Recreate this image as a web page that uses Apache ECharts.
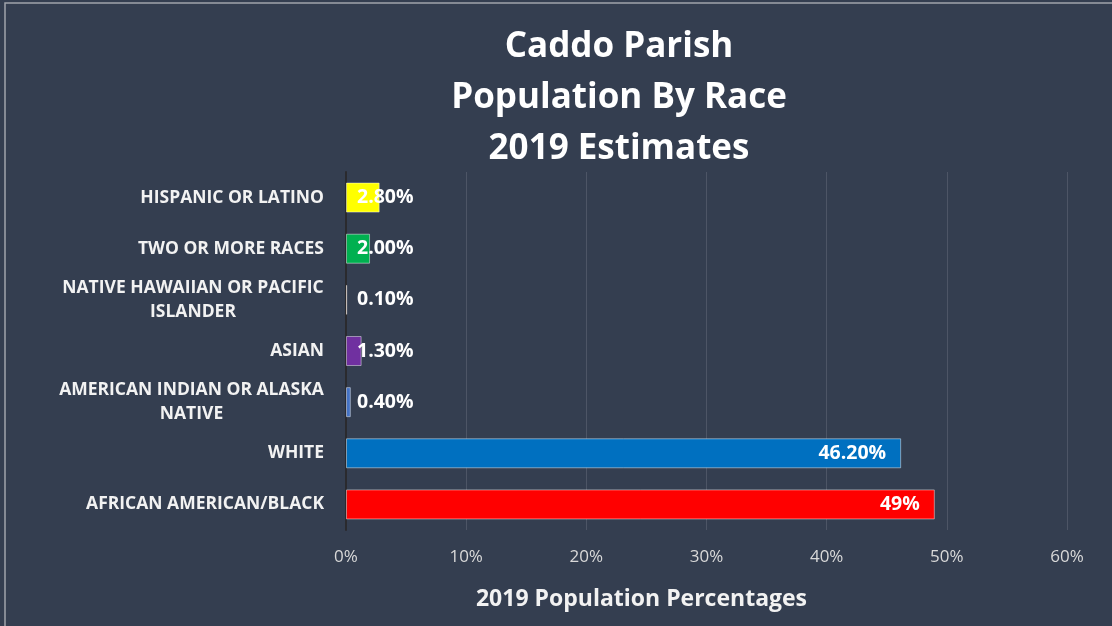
<!DOCTYPE html>
<html>
<head>
<meta charset="utf-8">
<script src="https://cdn.jsdelivr.net/npm/echarts@6/dist/echarts.min.js"></script>
<style>
  html, body { margin: 0; padding: 0; background: #343e50; }
  #chart { width: 1112px; height: 626px; }
</style>
</head>
<body>
<div id="chart"></div>
<script>
// Categories listed bottom to top (category axis starts at the bottom)
const categories = [
  'AFRICAN AMERICAN/BLACK',
  'WHITE',
  'AMERICAN INDIAN OR ALASKA\nNATIVE',
  'ASIAN',
  'NATIVE HAWAIIAN OR PACIFIC\nISLANDER',
  'TWO OR MORE RACES',
  'HISPANIC OR LATINO'
];
const percentages = [49, 46.2, 0.4, 1.3, 0.1, 2.0, 2.8];
// decimal places shown in each bar's value label
const labelDecimals = [0, 2, 2, 2, 2, 2, 2];
const barColors = ['#ff0000', '#0070c0', '#4472c4', '#7030a0', '#ed7d31', '#00b050', '#ffff00'];
const xTicks = [0, 10, 20, 30, 40, 50, 60];

const FONT = '"Open Sans"';
const CAT_FONT_SIZE = 17.5;

// measure text so wrapped category labels can be centred line by line
const measureCtx = document.createElement('canvas').getContext('2d');
measureCtx.font = 'bold ' + CAT_FONT_SIZE + 'px ' + FONT;
function catLabel(value) {
  const lines = value.split('\n');
  if (lines.length === 1) return value;
  const w = Math.ceil(Math.max(...lines.map(l => measureCtx.measureText(l).width)));
  return lines.map(l => '{c' + w + '|' + l + '}').join('\n');
}
const catRich = {};
categories.forEach(c => {
  const lines = c.split('\n');
  if (lines.length > 1) {
    const w = Math.ceil(Math.max(...lines.map(l => measureCtx.measureText(l).width)));
    catRich['c' + w] = {
      width: w, align: 'center', color: '#f2f2f2', fontFamily: FONT,
      fontWeight: 'bold', fontSize: CAT_FONT_SIZE, lineHeight: 24
    };
  }
});

const seriesData = percentages.map((v, i) => ({
  value: v,
  itemStyle: { color: barColors[i] },
  label: v >= 10
    ? { position: 'insideRight', distance: 15 }
    : { position: 'insideLeft', distance: 11 }
}));

const chart = echarts.init(document.getElementById('chart'), null, { renderer: 'canvas' });
chart.setOption({
  backgroundColor: '#343e50',
  animation: false,
  title: {
    text: 'Caddo Parish\nPopulation By Race\n2019 Estimates',
    left: 614,
    top: 17,
    textAlign: 'center',
    textStyle: {
      color: '#ffffff',
      fontFamily: FONT,
      fontWeight: 'bold',
      fontSize: 35,
      lineHeight: 51
    }
  },
  graphic: [{
    type: 'rect',
    shape: { x: 5, y: 3, width: 1200, height: 700 },
    style: { fill: 'none', stroke: '#a0a4ab', lineWidth: 1.5 },
    silent: true
  }],
  grid: { left: 346, right: 45, top: 172, bottom: 96 },
  xAxis: {
    type: 'value',
    min: xTicks[0],
    max: xTicks[xTicks.length - 1],
    interval: 10,
    axisLine: { show: false },
    axisTick: { show: false },
    splitLine: { lineStyle: { color: '#4d5566', width: 1 } },
    axisLabel: {
      formatter: v => v + '%',
      color: '#d9d9d9',
      fontFamily: FONT,
      fontSize: 17,
      margin: 19
    },
    name: '2019 Population Percentages',
    nameLocation: 'middle',
    nameGap: 58,
    nameTextStyle: {
      color: '#f2f2f2',
      fontFamily: FONT,
      fontWeight: 'bold',
      fontSize: 23,
      padding: [0, 130, 0, 0]
    }
  },
  yAxis: {
    type: 'category',
    data: categories,
    axisLine: { show: true, lineStyle: { color: '#2a2a2e', width: 2 } },
    axisTick: { show: false },
    axisLabel: {
      formatter: catLabel,
      rich: catRich,
      color: '#f2f2f2',
      fontFamily: FONT,
      fontWeight: 'bold',
      fontSize: CAT_FONT_SIZE,
      lineHeight: 24,
      align: 'right',
      margin: 22
    }
  },
  series: [{
    type: 'bar',
    data: seriesData,
    barWidth: 30,
    itemStyle: { borderColor: 'rgba(255,255,255,0.45)', borderWidth: 1 },
    label: {
      show: true,
      formatter: p => p.value.toFixed(labelDecimals[p.dataIndex]) + '%',
      color: '#ffffff',
      fontFamily: FONT,
      fontWeight: 'bold',
      fontSize: 19.5
    }
  }]
});
</script>
</body>
</html>
